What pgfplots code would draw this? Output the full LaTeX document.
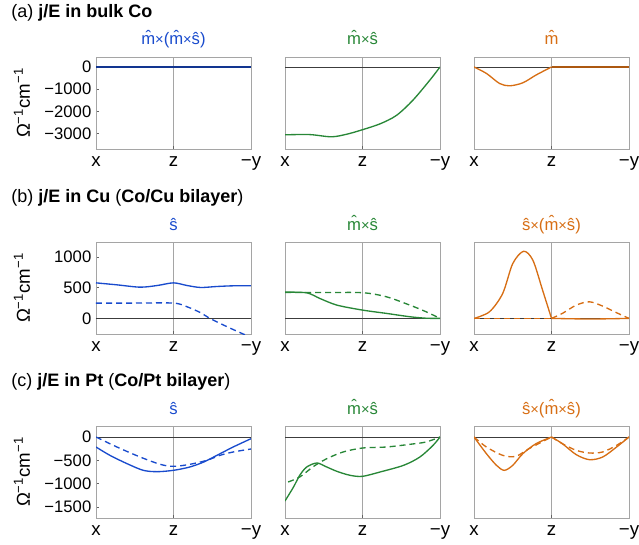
\documentclass[border=0pt]{standalone}
\usepackage{pgfplots}
\pgfplotsset{compat=1.18}
\usepackage{fontspec}
\setmainfont{Liberation Sans}

\definecolor{cblue}{RGB}{25,75,205}
\definecolor{cgreen}{RGB}{40,135,55}
\definecolor{corange}{RGB}{215,110,20}
\definecolor{frame}{RGB}{165,165,165}
\definecolor{zeroc}{RGB}{60,60,60}

\newcommand{\hm}{\^{m}}
\newcommand{\hs}{\^{s}}
\newcommand{\tx}{{\fontsize{11}{12}\selectfont\texttimes}}

\pgfplotsset{
  panel/.style={
    scale only axis, width=116.25pt, height=69pt,
    anchor=north west,
    xmin=0, xmax=2,
    xtick={0,1,2}, xticklabels={x,z,−y},
    xtick pos=bottom, tick align=inside,
    major tick length=2.5pt,
    axis line style={frame, line width=0.6pt},
    tick style={frame!60!black, line width=0.5pt},
    xmajorgrids=true,
    grid style={frame, line width=0.6pt},
    xticklabel style={font=\fontsize{14}{14}\selectfont, yshift=-2.5pt},
    yticklabel style={font=\fontsize{12.5}{13}\selectfont},
    ytick pos=left,
    clip=true,
  },
  noy/.style={ytick=\empty},
  zero/.style={zeroc, line width=0.6pt, forget plot},
  solid line/.style={line width=1pt, smooth},
  dash line/.style={line width=1pt, smooth, dash pattern=on 4.5pt off 3pt},
}
\tikzset{
  rowtitle/.style={anchor=base west, font=\fontsize{13.5}{14}\selectfont},
  coltitle/.style={anchor=base, font=\fontsize{12.5}{14}\selectfont},
  ylab/.style={rotate=90, font=\fontsize{14}{15}\selectfont},
}

\begin{document}
\begin{tikzpicture}
\useasboundingbox (0,0) rectangle (479.25pt,-408.75pt);

% ---------- row (a) ----------
\node[rowtitle] at (5pt,-13pt) {(a) \textbf{j/E in bulk Co}};
\node[ylab] at (16.5pt,-77.25pt) {Ω\textsuperscript{−1}cm\textsuperscript{−1}};
\node[coltitle, text=cblue] at (130.1pt,-33.75pt) {\hm\tx(\hm\tx\hs)};
\node[coltitle, text=cgreen] at (271.9pt,-33.75pt) {\hm\tx\hs};
\node[coltitle, text=corange] at (413.6pt,-33.75pt) {\hm};

\begin{axis}[panel, at={(72pt,-42.75pt)}, ymin=-3700, ymax=450,
  ytick={0,-1000,-2000,-3000}, yticklabels={0,−1000,−2000,−3000}]
\addplot[zero] coordinates {(0,0) (2,0)};
\addplot[cblue!70!black, line width=1pt] coordinates {(0,0) (1,0) (2,0)};
\end{axis}

\begin{axis}[panel, noy, at={(213.75pt,-42.75pt)}, ymin=-3700, ymax=450]
\addplot[zero] coordinates {(0,0) (2,0)};
\addplot[cgreen, solid line] coordinates {
(0,-3060) (0.32,-3050) (0.60,-3150) (0.80,-3030) (1.0,-2830)
(1.23,-2560) (1.44,-2180) (1.65,-1500) (1.87,-590) (2.0,0)};
\end{axis}

\begin{axis}[panel, noy, at={(355.5pt,-42.75pt)}, ymin=-3700, ymax=450]
\addplot[zero] coordinates {(0,0) (2,0)};
\addplot[corange, solid line] coordinates {
(0,0) (0.16,-290) (0.33,-745) (0.46,-850) (0.63,-715) (0.80,-365) (1.0,0)};
\addplot[corange!80!black, line width=1pt] coordinates {(1,0) (2,0)};
\end{axis}

% ---------- row (b) ----------
\node[rowtitle] at (5pt,-152pt) {(b) \textbf{j/E in Cu} (\textbf{Co/Cu bilayer})};
\node[ylab] at (16.5pt,-216pt) {Ω\textsuperscript{−1}cm\textsuperscript{−1}};
\node[coltitle, text=cblue] at (130.1pt,-173pt) {\hs};
\node[coltitle, text=cgreen] at (271.9pt,-173pt) {\hm\tx\hs};
\node[coltitle, text=corange] at (413.6pt,-173pt) {\hs\tx(\hm\tx\hs)};

\begin{axis}[panel, at={(72pt,-181.5pt)}, ymin=-254, ymax=1243,
  ytick={0,500,1000}, yticklabels={0,500,1000}]
\addplot[zero] coordinates {(0,0) (2,0)};
\addplot[cblue, solid line] coordinates {
(0,578) (0.27,546) (0.57,508) (0.79,535) (1.0,578) (1.175,535)
(1.35,503) (1.56,519) (1.77,530) (2.0,530)};
\addplot[cblue, dash line] coordinates {
(0,249) (0.5,249) (1.0,249) (1.175,189) (1.35,92) (1.47,0)
(1.69,-135) (1.86,-232) (2.0,-310)};
\end{axis}

\begin{axis}[panel, noy, at={(213.75pt,-181.5pt)}, ymin=-254, ymax=1243]
\addplot[zero] coordinates {(0,0) (2,0)};
\addplot[cgreen, solid line] coordinates {
(0,427) (0.28,416) (0.45,324) (0.67,216) (1.0,135) (1.31,81)
(1.61,27) (1.82,3) (2.0,0)};
\addplot[cgreen, dash line] coordinates {
(0,420) (0.5,420) (1.0,418) (1.31,351) (1.61,216) (1.82,108) (2.0,0)};
\end{axis}

\begin{axis}[panel, noy, at={(355.5pt,-181.5pt)}, ymin=-254, ymax=1243]
\addplot[zero] coordinates {(0,0) (2,0)};
\addplot[corange, dash line] coordinates {(0,0) (0.5,0) (1.0,0)};
\addplot[corange, dash line] coordinates {
(1.0,0) (1.14,81) (1.32,216) (1.49,270) (1.66,200) (1.84,92) (2.0,0)};
\addplot[corange, solid line] coordinates {
(0,0) (0.20,108) (0.37,405) (0.50,892) (0.64,1092) (0.76,946)
(0.885,459) (1.0,0)};
\addplot[corange, solid line] coordinates {
(1.0,0) (1.5,-10) (2.0,0)};
\end{axis}

% ---------- row (c) ----------
\node[rowtitle] at (5pt,-289.5pt) {(c) \textbf{j/E in Pt} (\textbf{Co/Pt bilayer})};
\node[ylab] at (16.5pt,-354pt) {Ω\textsuperscript{−1}cm\textsuperscript{−1}};
\node[coltitle, text=cblue] at (130.1pt,-310.5pt) {\hs};
\node[coltitle, text=cgreen] at (271.9pt,-310.5pt) {\hm\tx\hs};
\node[coltitle, text=corange] at (413.6pt,-310.5pt) {\hs\tx(\hm\tx\hs)};

\begin{axis}[panel, at={(72pt,-319.5pt)}, ymin=-1736, ymax=236,
  ytick={0,-500,-1000,-1500}, yticklabels={0,−500,−1000,−1500}]
\addplot[zero] coordinates {(0,0) (2,0)};
\addplot[cblue, solid line] coordinates {
(0,-214) (0.18,-393) (0.40,-571) (0.61,-714) (0.79,-743) (1.0,-714)
(1.21,-643) (1.39,-536) (1.56,-393) (1.77,-214) (2.0,-36)};
\addplot[cblue, dash line] coordinates {
(0,0) (0.27,-214) (0.57,-429) (0.83,-586) (1.0,-629) (1.21,-586)
(1.43,-500) (1.60,-393) (1.77,-321) (2.0,-257)};
\end{axis}

\begin{axis}[panel, noy, at={(213.75pt,-319.5pt)}, ymin=-1736, ymax=236]
\addplot[zero] coordinates {(0,0) (2,0)};
\addplot[cgreen, solid line] coordinates {
(0,-1371) (0.11,-1071) (0.19,-821) (0.28,-643) (0.41,-557) (0.52,-629)
(0.67,-736) (0.84,-821) (1.0,-843) (1.226,-750) (1.53,-607) (1.74,-429)
(1.91,-179) (2.0,0)};
\addplot[cgreen, dash line] coordinates {
(0.04,-964) (0.19,-857) (0.37,-629) (0.54,-464) (0.75,-321) (1.0,-236)
(1.31,-214) (1.61,-157) (1.82,-107) (2.0,0)};
\end{axis}

\begin{axis}[panel, noy, at={(355.5pt,-319.5pt)}, ymin=-1736, ymax=236]
\addplot[zero] coordinates {(0,0) (2,0)};
\addplot[corange, solid line] coordinates {
(0,0) (0.16,-357) (0.29,-607) (0.39,-714) (0.50,-607) (0.63,-357)
(0.80,-143) (1.0,0)};
\addplot[corange, solid line] coordinates {
(1.0,0) (1.14,-143) (1.32,-379) (1.49,-486) (1.66,-429) (1.84,-214) (2.0,0)};
\addplot[corange, dash line] coordinates {
(0,0) (0.16,-214) (0.37,-393) (0.54,-414) (0.71,-250) (1.0,0)};
\addplot[corange, dash line] coordinates {
(1.0,0) (1.14,-143) (1.32,-286) (1.49,-343) (1.66,-321) (1.84,-179) (2.0,0)};
\end{axis}

\end{tikzpicture}
\end{document}
